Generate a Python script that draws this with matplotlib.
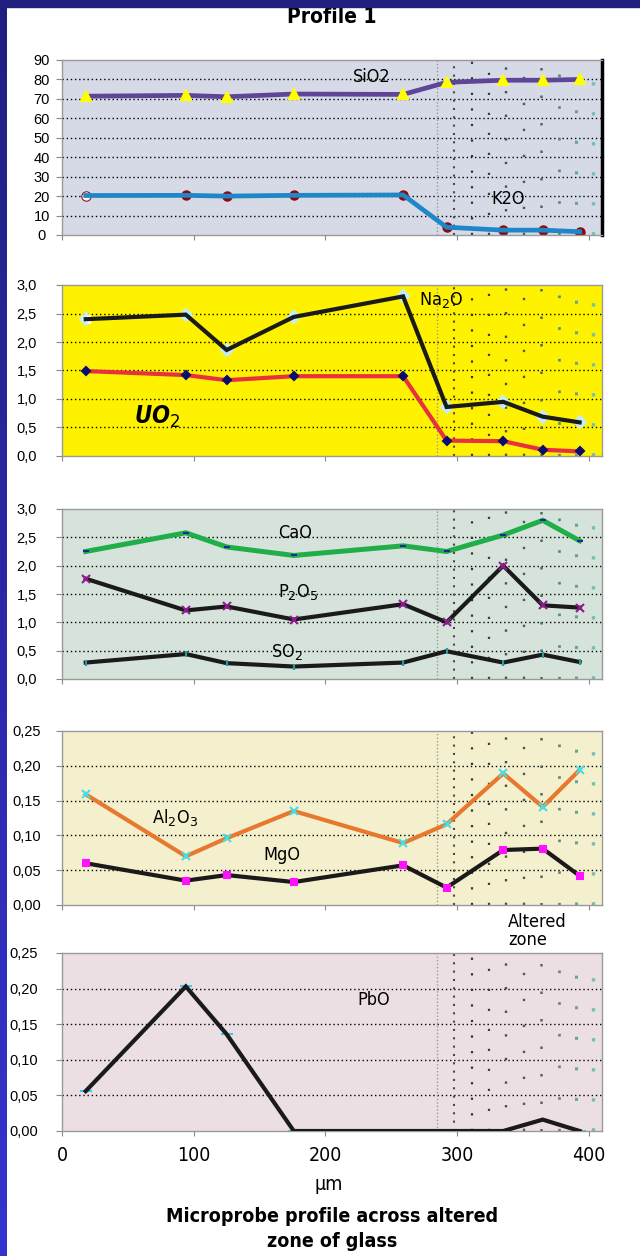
import matplotlib
matplotlib.use("Agg")
import matplotlib.pyplot as plt
import numpy as np
from matplotlib.ticker import FuncFormatter

# probe positions along the profile (µm)
x_um = [18, 94, 125, 176, 259, 292, 335, 365, 393]

# oxide contents at each probe position
sio2 = [71.4, 71.8, 71.1, 72.5, 72.3, 78.5, 79.6, 79.6, 80.0]
k2o = [20.3, 20.4, 20.0, 20.4, 20.6, 4.0, 2.5, 2.5, 1.7]
na2o = [2.40, 2.48, 1.86, 2.44, 2.80, 0.86, 0.95, 0.69, 0.59]
uo2 = [1.49, 1.42, 1.33, 1.40, 1.40, 0.27, 0.26, 0.11, 0.08]
cao = [2.25, 2.58, 2.33, 2.18, 2.35, 2.25, 2.54, 2.80, 2.44]
p2o5 = [1.77, 1.21, 1.28, 1.05, 1.32, 1.00, 2.00, 1.30, 1.26]
so2 = [0.29, 0.44, 0.28, 0.22, 0.29, 0.49, 0.29, 0.43, 0.30]
al2o3 = [0.159, 0.070, 0.096, 0.135, 0.089, 0.116, 0.189, 0.141, 0.194]
mgo = [0.060, 0.035, 0.043, 0.033, 0.057, 0.025, 0.079, 0.081, 0.042]
pbo = [0.056, 0.203, 0.136, 0.0, 0.0, 0.0, 0.0, 0.016, 0.0]

x_ticks = [0, 100, 200, 300, 400]

# dotted verticals marking the altered zone: position, colour, gap between dots
zone_x = [285, 298, 311, 324, 337, 351, 364, 377, 390, 403]
zone_col = ['#9a9a9a', '#4a4a4a', '#333333', '#3a3f3f', '#44504f',
            '#4a5a58', '#4f6966', '#5b8580', '#66a59c', '#72c0b3']
zone_gap = [1.5, 3, 6, 8, 9, 10, 10, 11, 9, 8]
zone_lw = [1.0, 1.5, 1.6, 1.6, 1.7, 1.7, 1.8, 1.9, 2.2, 2.4]

NARROW = dict(family='DejaVu Sans', fontstretch='condensed')
REGULAR = ['Liberation Sans', 'DejaVu Sans']

fig = plt.figure(figsize=(6.4, 12.56), dpi=100)
fig.patch.set_facecolor('white')

# blue slide border on the left and top
band = fig.add_axes([0, 0, 7 / 640, 1])
grad = np.linspace(0, 1, 256).reshape(-1, 1)
band.imshow(grad, aspect='auto', origin='upper',
            cmap=matplotlib.colors.LinearSegmentedColormap.from_list('b', ['#1f1f80', '#3434d0']))
band.axis('off')
fig.patches.append(plt.Rectangle((0, 1 - 7 / 1256), 1, 7 / 1256, transform=fig.transFigure,
                                 color='#1f1f80', zorder=5))

L, W = 62 / 640, 540 / 640


def panel(top_px, bot_px, ylim, yticks, bg, fmt, label_pad):
    ax = fig.add_axes([L, 1 - bot_px / 1256, W, (bot_px - top_px) / 1256])
    ax.set_facecolor(bg)
    ax.set_xlim(0, 410)
    ax.set_ylim(*ylim)
    ax.set_yticks(yticks)
    ax.yaxis.set_major_formatter(FuncFormatter(fmt))
    ax.set_xticks(x_ticks)
    ax.set_xticklabels([])
    for y in yticks[1:-1]:
        ax.axhline(y, color='black', lw=1.0, ls=(0, (1, 2)), zorder=1)
    for s in ax.spines.values():
        s.set_color('#9a9a9a')
        s.set_linewidth(1.0)
    ax.tick_params(axis='y', length=4.5, color='#888888', pad=label_pad, labelsize=10.5)
    ax.tick_params(axis='x', length=3.5, color='#888888')
    for lbl in ax.get_yticklabels():
        lbl.set_family(REGULAR)
        lbl.set_ha('center')
    for xv, c, g, w in zip(zone_x, zone_col, zone_gap, zone_lw):
        ax.axvline(xv, color=c, lw=w, ls=(0, (1, g)), zorder=1)
    return ax


def series(ax, y, color, lw, marker, mcolor, ms, under=False):
    ax.plot(x_um, y, color=color, lw=lw, zorder=3, solid_joinstyle='miter')
    ax.plot(x_um, y, ls='none', marker=marker, color=mcolor, ms=ms,
            mew=1.5, zorder=2 if under else 4)


comma1 = lambda v, p: f'{v:.1f}'.replace('.', ',')
comma2 = lambda v, p: f'{v:.2f}'.replace('.', ',')

# SiO2 / K2O
ax1 = panel(60, 235, (0, 90), list(range(0, 91, 10)), '#d6dae6', lambda v, p: f'{v:.0f}', 10)
series(ax1, sio2, '#5e4596', 3.4, '^', '#ffff00', 6.5)
series(ax1, k2o, '#1f86c8', 3.4, 'o', '#8b0a0a', 6, under=True)
ax1.plot(x_um[0], k2o[0], marker='o', color='white', ms=5, zorder=2)
ax1.spines['right'].set_color('black')
ax1.spines['right'].set_linewidth(2.5)
ax1.text(235, 81.5, 'SiO2', ha='center', va='center', fontsize=13, **NARROW)
ax1.text(339, 18.7, 'K2O', ha='center', va='center', fontsize=13, **NARROW)

# Na2O / UO2
ax2 = panel(285, 456, (0, 3), [0, 0.5, 1.0, 1.5, 2.0, 2.5, 3.0], '#fff200', comma1, 21)
series(ax2, na2o, '#1a1a1a', 3.0, 'D', '#c4eef6', 6, under=True)
series(ax2, uo2, '#e8313f', 3.0, 'D', '#0b0b6e', 4)
ax2.plot(x_um[0], na2o[0], marker='<', color='white', ms=6, zorder=2)
ax2.text(271, 2.74, 'Na$_2$O', ha='left', va='center', fontsize=13, **NARROW)
ax2.text(72, 0.68, 'UO$_2$', ha='center', va='center', fontsize=17,
         fontweight='bold', fontstyle='italic', **NARROW)

# CaO / P2O5 / SO2
ax3 = panel(509, 679, (0, 3), [0, 0.5, 1.0, 1.5, 2.0, 2.5, 3.0], '#d5e3db', comma1, 21)
series(ax3, cao, '#1fae48', 3.6, '_', '#1a2a9a', 5)
series(ax3, p2o5, '#1a1a1a', 3.0, 'x', '#8e1a8e', 6)
series(ax3, so2, '#1a1a1a', 3.0, '|', '#2a9a9a', 4)
ax3.text(177, 2.575, 'CaO', ha='center', va='center', fontsize=13, **NARROW)
ax3.text(179, 1.53, 'P$_2$O$_5$', ha='center', va='center', fontsize=13, **NARROW)
ax3.text(171, 0.48, 'SO$_2$', ha='center', va='center', fontsize=13, **NARROW)

# Al2O3 / MgO
ax4 = panel(731, 905, (0, 0.25), [0, 0.05, 0.10, 0.15, 0.20, 0.25], '#f4f0cd', comma2, 21)
series(ax4, al2o3, '#e8782e', 3.0, 'x', '#3ee0ea', 6)
series(ax4, mgo, '#1a1a1a', 3.0, 's', '#ff10ff', 5)
ax4.text(86, 0.125, 'Al$_2$O$_3$', ha='center', va='center', fontsize=13, **NARROW)
ax4.text(167, 0.072, 'MgO', ha='center', va='center', fontsize=13, **NARROW)

# PbO
ax5 = panel(953, 1131, (0, 0.25), [0, 0.05, 0.10, 0.15, 0.20, 0.25], '#ecdfe3', comma2, 23)
series(ax5, pbo, '#1a1a1a', 3.0, '_', '#33ccf0', 8, under=True)
ax5.text(237, 0.184, 'PbO', ha='center', va='center', fontsize=13, **NARROW)
ax5.set_xticklabels([str(v) for v in x_ticks], fontsize=14, **NARROW)
ax5.tick_params(axis='x', pad=7)

fig.text(508 / 640, 1 - 931 / 1256, 'Altered\nzone', ha='left', va='center',
         fontsize=13, linespacing=1.0, **NARROW)
fig.text(332 / 640, 1 - 17 / 1256, 'Profile 1', ha='center', va='center',
         fontsize=15, fontweight='bold', **NARROW)
fig.text(329 / 640, 1 - 1185 / 1256, 'μm', ha='center', va='center',
         fontsize=14, **NARROW)
fig.text(332 / 640, 1 - 1229 / 1256, 'Microprobe profile across altered\nzone of glass',
         ha='center', va='center', fontsize=14, fontweight='bold',
         linespacing=1.4, **NARROW)

fig.savefig('out.png', dpi=100)
